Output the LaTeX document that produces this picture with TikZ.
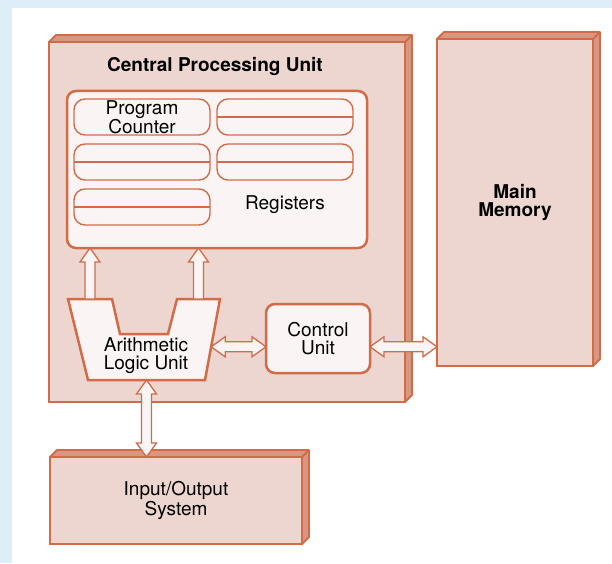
\documentclass[tikz,border=0pt]{standalone}
\usepackage{fontspec}
\setmainfont{TeX Gyre Heros}
\usetikzlibrary{calc}

\definecolor{rust}{RGB}{210,108,72}
\definecolor{slabpink}{RGB}{237,214,208}
\definecolor{slabside}{RGB}{217,150,128}
\definecolor{cellwhite}{RGB}{250,245,244}
\definecolor{skyback}{RGB}{221,238,248}

\tikzset{
  slab/.style={draw=rust, line width=2.5pt, fill=slabpink, outer sep=0pt, inner sep=0pt},
  sideface/.style={draw=rust, line width=1.8pt, fill=slabside, line join=round},
  regpanel/.style={draw=rust, line width=2.5pt, fill=cellwhite, rounded corners=9pt, outer sep=0pt},
  regcell/.style={draw=rust, line width=1.4pt, fill=cellwhite, rounded corners=11pt,
    minimum width=136, minimum height=36, inner sep=0pt, outer sep=0pt, txt},
  unitbox/.style={draw=rust, line width=2.5pt, fill=cellwhite, rounded corners=9pt, outer sep=0pt, txt},
  txt/.style={font=\fontsize{19}{17.5}\selectfont, align=center, inner sep=0pt},
  title/.style={font=\bfseries\fontsize{19}{17.5}\selectfont, align=center, inner sep=0pt},
  fatarrow/.style={draw=rust, line width=1.3pt, fill=cellwhite, line join=miter,
    to path={let \p1=(\tikztostart), \p2=(\tikztotarget),
      \n1={atan2(\y2-\y1,\x2-\x1)}, \n2={veclen(\x2-\x1,\y2-\y1)} in
      [shift={(\p1)}, rotate=\n1]
      (0pt,-5pt) -- (\n2-14pt,-5pt) -- (\n2-14pt,-10pt) -- (\n2,0pt)
      -- (\n2-14pt,10pt) -- (\n2-14pt,5pt) -- (0pt,5pt) -- cycle}},
  fatdouble/.style={draw=rust, line width=1.3pt, fill=cellwhite, line join=miter,
    to path={let \p1=(\tikztostart), \p2=(\tikztotarget),
      \n1={atan2(\y2-\y1,\x2-\x1)}, \n2={veclen(\x2-\x1,\y2-\y1)} in
      [shift={(\p1)}, rotate=\n1]
      (0pt,0pt) -- (14pt,-10pt) -- (14pt,-5pt) -- (\n2-14pt,-5pt) -- (\n2-14pt,-10pt)
      -- (\n2,0pt) -- (\n2-14pt,10pt) -- (\n2-14pt,5pt) -- (14pt,5pt) -- (14pt,10pt) -- cycle}}
}

\newcommand{\slabdepth}[1]{%
  \filldraw[sideface] (#1.north west) -- ++(7,7) -- ($(#1.north east)+(7,7)$)
    -- ($(#1.south east)+(7,7)$) -- (#1.south east) -- (#1.north east) -- cycle
    (#1.north east) -- ++(7,7);}

\begin{document}
\begin{tikzpicture}[x=1pt, y=1pt]
    \useasboundingbox (0,0) rectangle (612,563);
    \fill[skyback] (0,0) rectangle (612,563);
    \fill[white] (12,0) rectangle (612,555);

    \node[slab, minimum width=356, minimum height=360] (cpu) at (227,341) {};
    \slabdepth{cpu}
    \node[slab, minimum width=156, minimum height=327, title] (mm) at (515,360.5) {Main\\Memory};
    \slabdepth{mm}
    \node[slab, minimum width=252, minimum height=87, txt] (io) at (176,62.5) {Input/Output\\System};
    \slabdepth{io}

    \node[title] (cputitle) at (215,496.5) {Central Processing Unit};

    \node[regpanel, minimum width=300, minimum height=157] (regs) at (217,393.5) {};
    \node[regcell] (pc) at (142,446) {Program\\Counter};
    \foreach \nm/\x/\y in {r1/285/446, r2/142/401, r3/285/401, r4/142/356} {
        \node[regcell] (\nm) at (\x,\y) {};
        \draw[rust, line width=1.4pt] (\nm.west) -- (\nm.east);
    }
    \node[txt] (reglabel) at (285,358) {Registers};

    \filldraw[draw=rust, line width=2.5pt, fill=cellwhite, line join=miter]
        (68,264) coordinate (alu-tl) -- (112,264) coordinate (alu-nl)
        -- (120,229) -- (168,229) -- (177,264) coordinate (alu-nr)
        -- (220,264) coordinate (alu-tr) -- (205,183) coordinate (alu-br)
        -- (88,183) coordinate (alu-bl) -- cycle;
    \node[txt] (alu) at (146,207.5) {Arithmetic\\Logic Unit};

    \node[unitbox, minimum width=104, minimum height=69] (cu) at (318,224.5) {Control\\Unit};

    \coordinate (portL) at ($(alu-tl)!.5!(alu-nl)$);
    \coordinate (portR) at ($(alu-nr)!.5!(alu-tr)$);
    \coordinate (alu-b) at ($(alu-bl)!.5!(alu-br)$);
    \path (alu-tr) -- (alu-br) coordinate[pos=0.59] (alu-r);

    \path (portL) edge[fatarrow] (portL |- regs.south);
    \path (portR) edge[fatarrow] (portR |- regs.south);
    \path (alu-r) edge[fatdouble] (alu-r -| cu.west);
    \path (alu-r -| cu.east) edge[fatdouble] (alu-r -| mm.west);
    \path (alu-b) edge[fatdouble] (alu-b |- io.north);
\end{tikzpicture}
\end{document}
